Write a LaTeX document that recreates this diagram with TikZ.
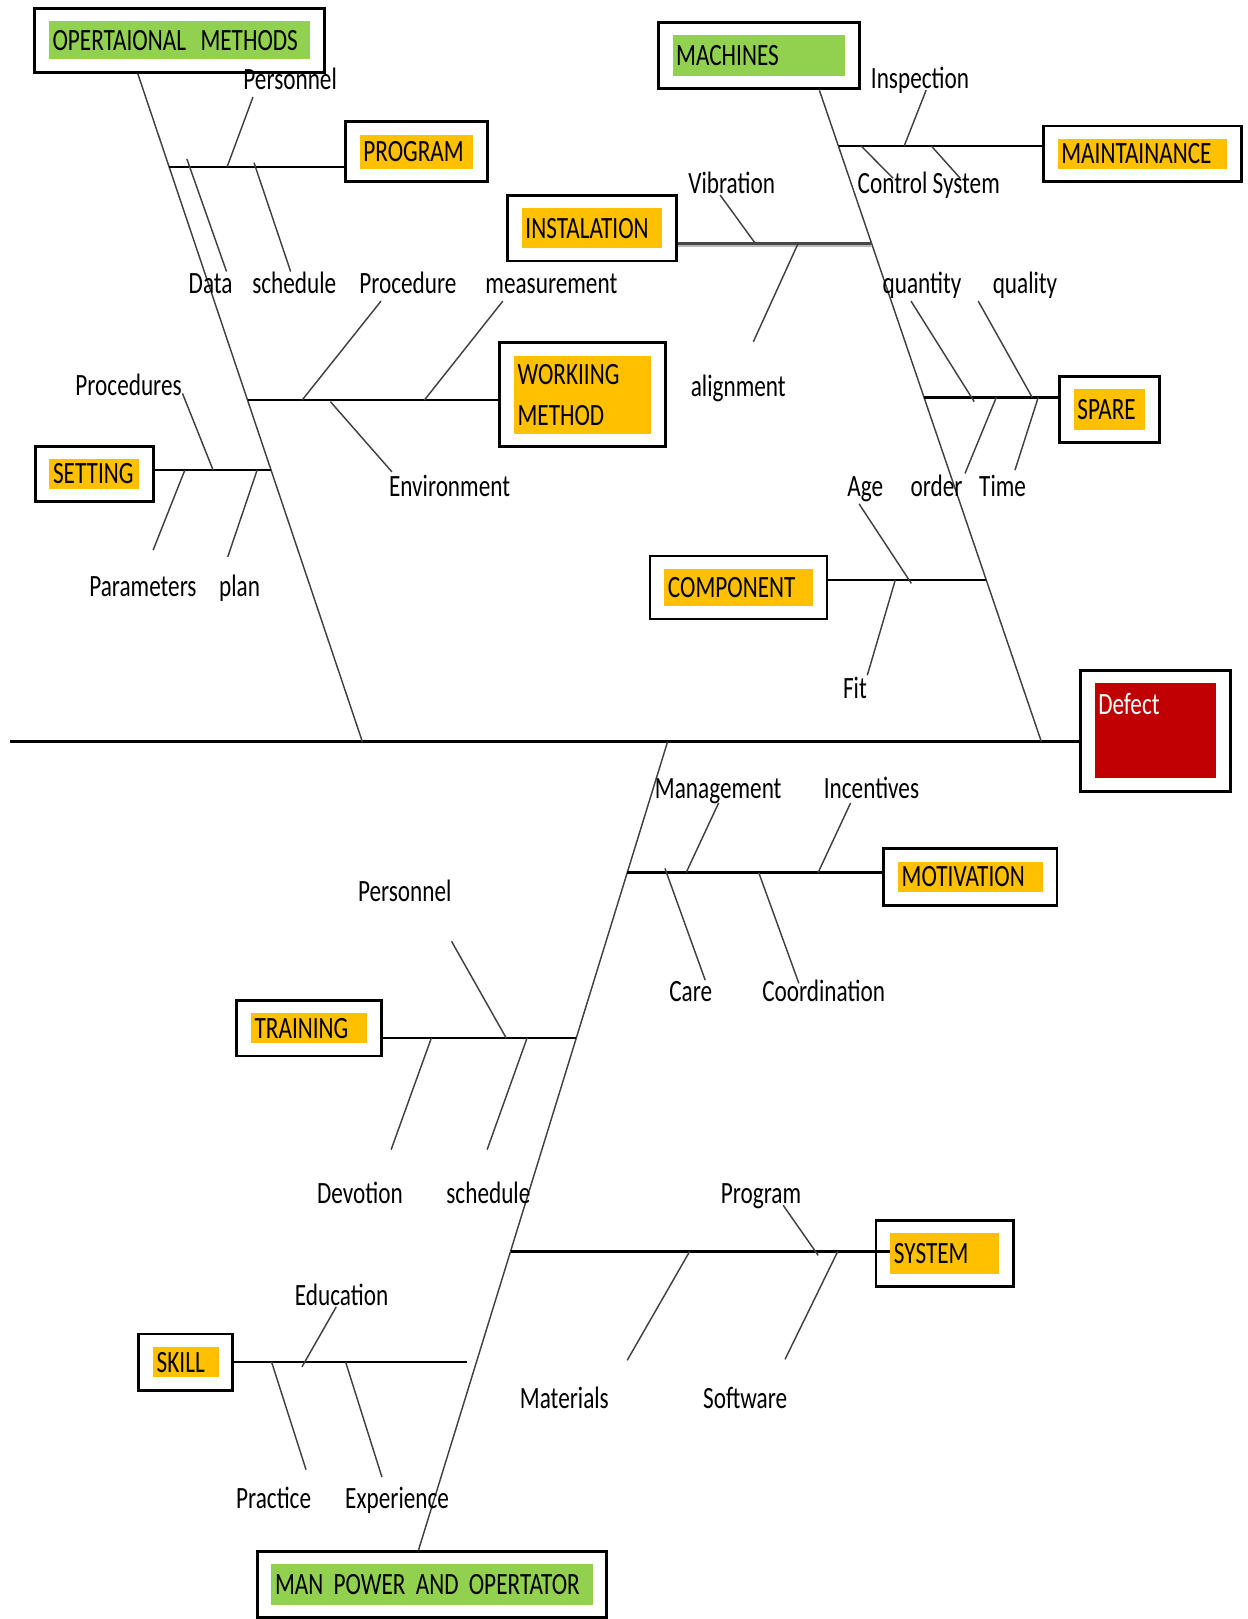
\documentclass[tikz,border=0pt]{standalone}
\usepackage{fontspec}
\setmainfont{Carlito}[FakeStretch=0.75]
\usetikzlibrary{fit,calc}
\hyphenpenalty=10000
\exhyphenpenalty=10000
\definecolor{catgreen}{HTML}{92D050}
\definecolor{catorange}{HTML}{FFC000}
\definecolor{defred}{HTML}{C00000}
\tikzset{
  lbl/.style     ={anchor=base, inner sep=0pt, font=\fontsize{15}{18}\selectfont},
  catfill/.style ={fill=#1, anchor=north west, align=left, inner xsep=1.75pt, inner ysep=0pt,
                   font=\fontsize{15}{18}\selectfont},
  frame/.style   ={draw=black, line width=1.4pt, inner xsep=6.75pt, inner ysep=6pt},
  bone/.style    ={draw=black, line width=1.5pt},
  branch/.style  ={draw=black, line width=1.2pt},
  graybranch/.style={draw=black!72, line width=1.1pt,
                   preaction={draw=black!28, line width=1.1pt, transform canvas={yshift=-1.1pt}}},
  twig/.style    ={draw=black!75, line width=0.7pt},
}
\begin{document}
\begin{tikzpicture}[x=0.5pt, y=-0.5pt]
\useasboundingbox (0,0) rectangle (1208,1568);

\node[catfill=catgreen, text width=123pt, minimum height=18.5pt] (opm) at (47,20) {OPERTAIONAL\hspace{7pt}METHODS};
\node[catfill=catorange, text width=51.5pt, minimum height=16.5pt] (prog) at (348,130) {PROGRAM};
\node[catfill=catorange, text width=64.5pt, minimum height=19.5pt] (inst) at (505,201) {INSTALATION};
\node[catfill=catorange, text width=63pt, minimum height=38pt] (wm) at (497.4,344) {WORKIING\\[2pt]METHOD};
\node[catfill=catorange, text width=40pt, minimum height=14.5pt] (set) at (47.5,444) {SETTING};
\node[catfill=catgreen, text width=80.2pt, minimum height=19.7pt] (mach) at (651,33.9) {MACHINES};
\node[catfill=catorange, text width=78.4pt, minimum height=14.5pt] (maint) at (1024,134) {MAINTAINANCE};
\node[catfill=catorange, text width=31.2pt, minimum height=19.5pt] (spare) at (1039.6,376.8) {SPARE};
\node[catfill=catorange, text width=68.3pt, minimum height=18.1pt] (comp) at (643,550.5) {COMPONENT};
\node[catfill=defred, text=white, text width=55.1pt, text height=15.5pt, text depth=30.7pt] (def) at (1059.8,661) {Defect};
\node[catfill=catorange, text width=66.5pt, minimum height=14.9pt] (mot) at (869.4,834) {MOTIVATION};
\node[catfill=catorange, text width=52.6pt, minimum height=14.6pt] (train) at (242.7,980.7) {TRAINING};
\node[catfill=catorange, text width=49pt, minimum height=19.8pt] (sys) at (861.9,1193.8) {SYSTEM};
\node[catfill=catorange, text width=28.2pt, minimum height=14.8pt] (skill) at (147.9,1304) {SKILL};
\node[catfill=catgreen, text width=152pt, minimum height=19.7pt] (mp) at (262.5,1514.4) {MAN POWER AND OPERTATOR};

\foreach \n in {opm,prog,inst,wm,set,mach,maint,spare,comp,def,mot,train,sys,skill,mp}
  \node[frame, fit=(\n)] (\n box) {};

\coordinate (tail) at (10,718.5);
\coordinate (sl) at (351,718.5);
\coordinate (sr) at (1008.6,718.5);
\coordinate (sb) at (646.5,718.5);
\draw[bone] (tail) -- (tail -| defbox.west);
\draw[twig] ([xshift=-20.25pt]opmbox.south) -- (sl);
\draw[twig] ([xshift=29.25pt]machbox.south) -- (sr);
\draw[twig] (sb) -- ([xshift=-6.5pt]mpbox.north);

\coordinate (jprog) at (164,161.5);
\coordinate (jwm) at (239.9,387.5);
\coordinate (jset) at (262.7,455.3);
\coordinate (jmaint) at (812.3,141.4);
\coordinate (jinst) at (844.4,235.7);
\coordinate (jspare) at (895.1,384.9);
\coordinate (jcomp) at (955.3,561.9);
\coordinate (jmot) at (607.5,845);
\coordinate (jtrain) at (558.2,1005.2);
\coordinate (jsys) at (494.5,1211.9);
\coordinate (jskill) at (452,1319);
\draw[branch] (jprog) -- (jprog -| progbox.west);
\draw[branch] (jwm) -- (jwm -| wmbox.west);
\draw[branch] (jset) -- (jset -| setbox.east);
\draw[branch] (jmaint) -- (jmaint -| maintbox.west);
\draw[graybranch] (jinst) -- (jinst -| instbox.east);
\draw[branch] (jspare) -- (jspare -| sparebox.west);
\draw[branch] (jcomp) -- (jcomp -| compbox.east);
\draw[branch] (jmot) -- (jmot -| motbox.west);
\draw[branch] (jtrain) -- (jtrain -| trainbox.east);
\draw[branch] (jsys) -- (jsys -| sys.west);
\draw[branch] (jskill) -- (jskill -| skillbox.east);

\foreach \i/\ax/\ay/\bx/\by in {
  1/245/94/220/161.5, 2/181/154/219.4/263, 3/246/157.6/281.5/263,
  4/369/291.6/292.6/387.5, 5/487/291.6/411/387.5, 6/320/389/379.6/457,
  7/176.7/381/206.4/455.3, 8/179/455.3/148.3/532.8, 9/249/455.3/220.6/539.3,
  10/897/87.2/875.7/141.4, 11/834/141.4/865/172.7, 12/902/141.4/930/172.7,
  13/697.5/189/731.5/235.7, 14/773/235.7/729.6/331, 15/882.3/291.6/943.5/389,
  16/947.4/291.6/999.7/384.9, 17/964.9/384.9/934.6/458.5, 18/1005.5/384.9/983/455.3,
  19/832/488/882.6/565, 20/867/561.9/840/654,
  21/696/777.6/664.6/845, 22/823.8/777.6/792.4/845, 23/644/841/683/949.3,
  24/734.8/845/773.7/952.3, 25/437.3/911.6/490.2/1005.2, 26/417.8/1005.2/378.8/1113.4,
  27/510.5/1005.2/471.8/1113.4, 28/758.5/1167.3/792.4/1215.8, 29/668/1211.9/607.4/1317.5,
  30/811.4/1211.9/760.3/1316.5, 31/325.6/1265.8/292.4/1323.9, 32/263/1319/296.4/1423.4,
  33/334.7/1319/369.9/1430.5}
{
  \coordinate (ta\i) at (\ax,\ay);
  \coordinate (tb\i) at (\bx,\by);
  \draw[twig] (ta\i) -- (tb\i);
}

\foreach \n/\x/\y/\t in {
  lper/281/87/Personnel, ldata/204/284/Data, lsch/285/284/schedule,
  lproc/395/284/Procedure, lmeas/534/284/measurement, lprocs/124.5/382.6/Procedures,
  lenv/435.4/481/Environment, lpar/138.4/578/Parameters, lplan/232/578/plan,
  linsp/891/85.6/Inspection, lctrl/899.5/187/Control System, lvib/708.6/187/Vibration,
  lalign/715/384/alignment, lqty/893/284/quantity, lqly/992.7/284/quality,
  lage/838/481/Age, lord/907/481/order, ltime/971/481/Time, lfit/828/676.5/Fit,
  lmgmt/695.6/773.4/Management, linc/844/773.4/Incentives, lcare/669/970/Care,
  lcoord/797.7/970/Coordination, lpertr/392/873.5/Personnel, ldev/348.6/1166/Devotion,
  lschtr/473/1166/schedule, lprg/737/1165.5/Program, lmat/546.6/1364/Materials,
  lsoft/721.7/1364/Software, ledu/330.8/1264/Education, lprac/265/1461/Practice,
  lexp/384.6/1461/Experience}
  \node[lbl] (\n) at (\x,\y) {\t};
\end{tikzpicture}
\end{document}
